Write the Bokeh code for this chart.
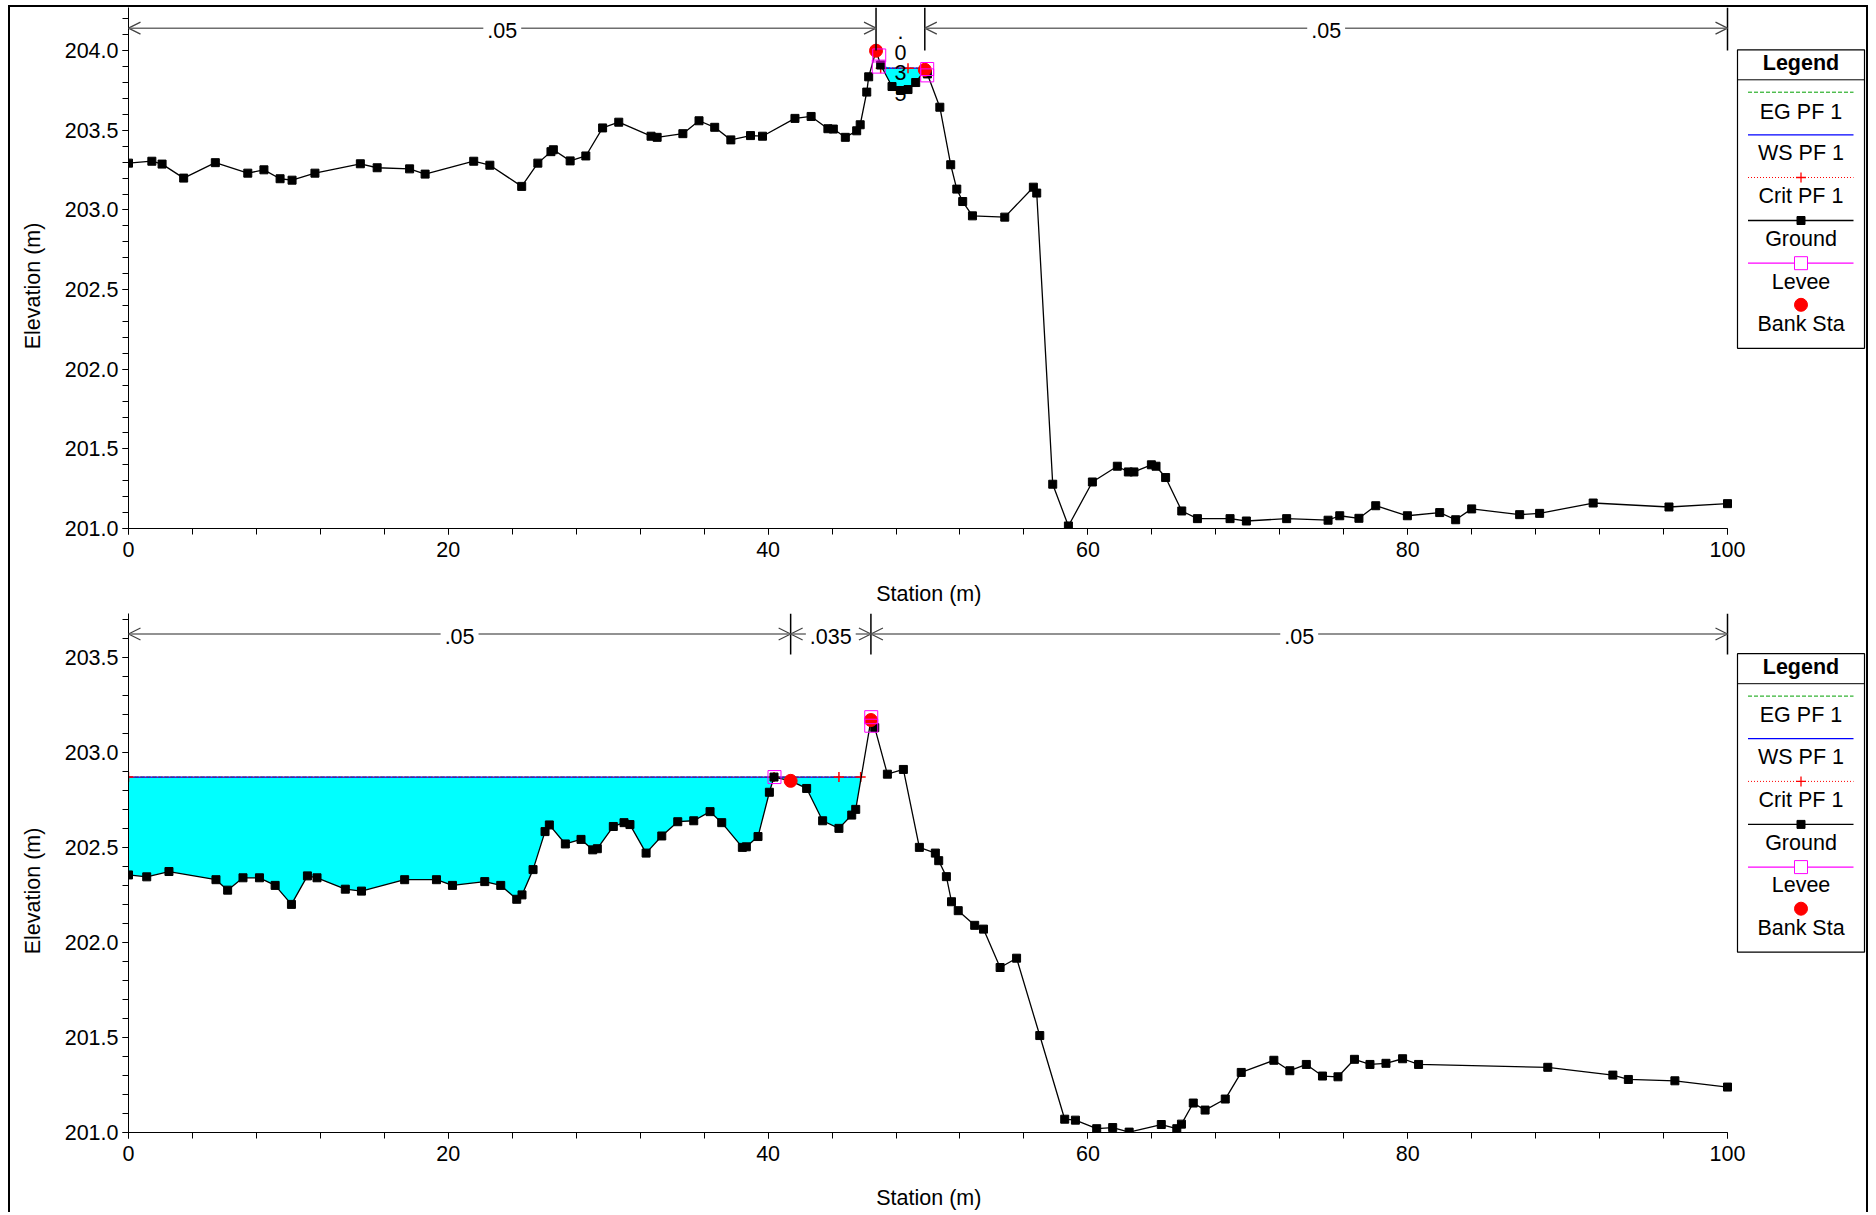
import numpy as np
from bokeh.plotting import figure
from bokeh.layouts import column
from bokeh.models import (Range1d, SingleIntervalTicker, PrintfTickFormatter,
                          Arrow, OpenHead, Label)
from bokeh.core.properties import value
from bokeh.embed import file_html
from bokeh.resources import INLINE

# ---------------------------------------------------------------- data
top_station = [0.0, 1.46, 2.10, 3.45, 5.43, 7.46, 8.47, 9.48, 10.23, 11.66,
               14.50, 15.55, 17.58, 18.55, 21.59, 22.60, 24.59, 25.60, 26.42, 26.57,
               27.62, 28.60, 29.65, 30.66, 32.68, 33.06, 34.67, 35.68, 36.66, 37.67,
               38.90, 39.65, 41.68, 42.69, 43.74, 44.08, 44.83, 45.54, 45.76, 46.17,
               46.29, 46.75, 47.04, 47.75, 48.29, 48.75, 49.23, 49.80, 49.96, 50.74,
               51.42, 51.80, 52.17, 52.78, 54.80, 56.59, 56.80, 57.80, 58.78, 60.28,
               61.84, 62.53, 62.88, 63.97, 64.26, 64.86, 65.87, 66.85, 68.89, 69.91,
               72.43, 75.02, 75.75, 76.95, 78.00, 79.98, 82.00, 83.00, 84.00, 87.00,
               88.25, 91.60, 96.34, 100.0]
top_elev = [203.294, 203.306, 203.288, 203.200, 203.297, 203.231, 203.252, 203.196, 203.187, 203.231,
            203.290, 203.265, 203.258, 203.225, 203.306, 203.281, 203.148, 203.294, 203.366, 203.378,
            203.308, 203.339, 203.515, 203.551, 203.463, 203.456, 203.479, 203.560, 203.519, 203.440,
            203.467, 203.463, 203.575, 203.587, 203.510, 203.508, 203.456, 203.497, 203.535, 203.740,
            203.836, 204.000, 203.910, 203.775, 203.750, 203.756, 203.800, 203.880, 203.854, 203.645,
            203.284, 203.131, 203.053, 202.963, 202.955, 203.143, 203.106, 201.278, 201.016, 201.292,
            201.391, 201.355, 201.355, 201.400, 201.391, 201.320, 201.110, 201.062, 201.062, 201.047,
            201.062, 201.052, 201.080, 201.064, 201.143, 201.080, 201.100, 201.055, 201.123, 201.087,
            201.095, 201.160, 201.135, 201.156]
top_bank_sta = [46.75, 49.80]
top_bank_elev = [204.00, 203.88]
top_levee_sta = [46.95, 46.92, 49.95, 49.95]
top_levee_elev = [203.97, 203.90, 203.885, 203.845]
top_ws_sta = [47.00, 49.96]
top_ws_elev = 203.89
top_eg_elev = 203.89
top_crit_sta = [47.04, 48.75]
top_n_sta = [0.0, 46.75, 49.80, 100.0]
top_n_val = [".05", ".035", ".05"]

bot_station = [0.0, 1.14, 2.53, 5.47, 6.20, 7.16, 8.19, 9.17, 10.19, 11.19,
               11.79, 13.56, 14.57, 17.27, 19.26, 20.26, 22.28, 23.28, 24.28, 24.61,
               25.30, 26.05, 26.32, 27.32, 28.30, 29.03, 29.32, 30.32, 30.99, 31.36,
               32.37, 33.35, 34.35, 35.35, 36.37, 37.10, 38.39, 38.64, 39.37, 40.08,
               40.37, 41.41, 42.41, 43.41, 44.43, 45.23, 45.48, 46.43, 46.67, 47.46,
               48.46, 49.46, 50.46, 50.67, 51.15, 51.47, 51.89, 52.92, 53.47, 54.51,
               55.54, 56.99, 58.55, 59.22, 60.55, 61.55, 62.58, 64.59, 65.56, 65.85,
               66.59, 67.33, 68.59, 69.59, 71.63, 72.63, 73.66, 74.67, 75.64, 76.67,
               77.64, 78.64, 79.68, 80.68, 88.76, 92.83, 93.80, 96.71, 100.0]
bot_elev = [202.355, 202.345, 202.373, 202.330, 202.275, 202.340, 202.340, 202.300, 202.200, 202.350,
            202.340, 202.280, 202.270, 202.330, 202.330, 202.300, 202.320, 202.300, 202.227, 202.250,
            202.383, 202.583, 202.618, 202.518, 202.542, 202.487, 202.493, 202.610, 202.630, 202.620,
            202.470, 202.560, 202.635, 202.640, 202.688, 202.630, 202.500, 202.503, 202.557, 202.790,
            202.870, 202.850, 202.810, 202.640, 202.600, 202.670, 202.700, 203.170, 203.130, 202.885,
            202.910, 202.500, 202.470, 202.430, 202.346, 202.214, 202.167, 202.090, 202.070, 201.868,
            201.917, 201.510, 201.070, 201.065, 201.020, 201.026, 201.002, 201.042, 201.020, 201.044,
            201.155, 201.118, 201.176, 201.316, 201.380, 201.325, 201.358, 201.297, 201.293, 201.385,
            201.358, 201.364, 201.388, 201.358, 201.343, 201.302, 201.279, 201.272, 201.239]
bot_bank_sta = [41.41, 46.43]
bot_bank_elev = [202.85, 203.17]
bot_levee_sta = [40.40, 46.45, 46.45]
bot_levee_elev = [202.87, 203.185, 203.14]
bot_ws_sta = [0.0, 45.79]
bot_ws_elev = 202.87
bot_eg_elev = 202.87
bot_crit_sta = [0.0, 40.37, 44.43, 45.79]
bot_n_sta = [0.0, 41.41, 46.43, 100.0]
bot_n_val = [".05", ".035", ".05"]

legend_labels = ["EG PF 1", "WS PF 1", "Crit PF 1", "Ground", "Levee", "Bank Sta"]
x_title = "Station (m)"
y_title = "Elevation (m)"

# ---------------------------------------------------------------- style / layout
FONT = "Liberation Sans"
FS = "21.5px"
FIG_W = 1856
ORIGIN_X = 10.0             # page x where the figures start (after margin + border)
FRAME_LEFT_PAGE = 128.0
PX_PER_M_X = 15.99
X_END = (FIG_W - (FRAME_LEFT_PAGE - ORIGIN_X)) / PX_PER_M_X
CYAN = "#00FFFF"
GRAY = "#6e6e6e"
NBSP = "\u00a0"


def make_panel(station, elev, bank_sta, bank_elev, levee_sta, levee_elev,
               ws_sta, ws_elev, eg_elev, crit_sta, n_sta, n_val, *,
               page_top, height, mbt, frame_h, pxm_y, row_page, vline_bottom_page,
               legend_top_page, stack_vertical_mid):
    frame_top_page = page_top + mbt
    mbb = height - mbt - frame_h
    y_end = 201.0 + frame_h / pxm_y

    def X(px):
        return (px - FRAME_LEFT_PAGE) / PX_PER_M_X

    def Y(py):
        return y_end - (py - frame_top_page) / pxm_y

    p = figure(width=FIG_W, height=height, output_backend="svg", toolbar_location=None,
               x_range=Range1d(0, X_END), y_range=Range1d(201.0, y_end),
               min_border_left=int(FRAME_LEFT_PAGE - ORIGIN_X), min_border_right=0,
               min_border_top=mbt, min_border_bottom=mbb)
    p.outline_line_color = None
    p.grid.visible = False
    p.background_fill_color = "white"
    p.border_fill_color = "white"

    for ax in (p.xaxis[0], p.yaxis[0]):
        ax.axis_line_color = "black"
        ax.major_tick_line_color = "black"
        ax.minor_tick_line_color = "black"
        ax.major_tick_in = 0
        ax.minor_tick_in = 0
        ax.major_tick_out = 6
        ax.minor_tick_out = 6
        ax.major_label_text_font = FONT
        ax.major_label_text_font_size = FS
        ax.major_label_text_color = "black"
        ax.axis_label_text_font = FONT
        ax.axis_label_text_font_size = FS
        ax.axis_label_text_font_style = "normal"
        ax.axis_label_text_color = "black"
    xa = p.xaxis[0]
    xa.ticker = SingleIntervalTicker(interval=20, num_minor_ticks=5)
    xa.bounds = (0, 100)
    xa.major_label_standoff = 7
    # the frame reaches past station 100 (legend area); trailing no-break spaces keep
    # the title centred under the 0-100 axis as in the original
    xa.axis_label = x_title + NBSP * 23
    xa.axis_label_standoff = 22
    ya = p.yaxis[0]
    ya.ticker = SingleIntervalTicker(interval=0.5, num_minor_ticks=5)
    ya.formatter = PrintfTickFormatter(format="%.1f")
    ya.major_label_standoff = 4
    ya.axis_label = y_title + NBSP * 6
    ya.axis_label_standoff = 17

    # water fill
    st = np.asarray(station, dtype=float)
    el = np.asarray(elev, dtype=float)
    inside = (st > ws_sta[0]) & (st < ws_sta[1])
    fx = np.concatenate([[ws_sta[0]], st[inside], [ws_sta[1]]])
    fg = np.interp(fx, st, el)
    p.varea(x=fx, y1=fg, y2=np.maximum(fg, ws_elev), fill_color=CYAN)

    # EG / WS / Crit
    p.line(ws_sta, [eg_elev] * 2, line_color="#00a000", line_width=1, line_dash="4 2")
    p.line(ws_sta, [ws_elev] * 2, line_color="blue", line_width=1.2)
    p.line(ws_sta, [ws_elev] * 2, line_color="red", line_width=1, line_dash="1 2")
    p.scatter(crit_sta, [ws_elev] * len(crit_sta), marker="cross", size=10,
              line_color="red", line_width=1.5)

    # ground
    p.line(station, elev, line_color="black", line_width=1.3)
    p.scatter(station, elev, marker="square", size=8, fill_color="black",
              line_color="black")

    # bank stations, levees
    p.scatter(bank_sta, bank_elev, marker="circle", size=13, fill_color="red",
              line_color="red")
    p.scatter(levee_sta, levee_elev, marker="square", size=13, fill_color=None,
              line_color="magenta", line_width=1)

    # Manning's n reach markers
    row_y = Y(row_page)
    vtop = y_end
    vbot = Y(vline_bottom_page)
    p.segment(x0=n_sta[1:], y0=[vtop] * 3, x1=n_sta[1:], y1=[vbot] * 3,
              line_color="black", line_width=1.5)
    for i, lab in enumerate(n_val):
        a, b = n_sta[i], n_sta[i + 1]
        mid = (a + b) / 2
        if stack_vertical_mid and i == 1:
            rows = [31.0, 51.7, 71.5, 92.5]
            p.text(x=[mid] * 4, y=[Y(r) for r in rows], text=list(lab),
                   text_align="center", text_baseline="middle",
                   text_font=value(FONT), text_font_size=FS, text_color="black")
            continue
        p.add_layout(Arrow(x_start=a, y_start=row_y, x_end=b, y_end=row_y,
                           line_color=GRAY, line_width=1.6,
                           start=OpenHead(size=12, line_color="#444444", line_width=1.3),
                           end=OpenHead(size=12, line_color="#444444", line_width=1.3)))
        p.add_layout(Label(x=mid, y=Y(row_page + 2.5), text=lab, text_align="center",
                           text_baseline="middle", text_font=FONT, text_font_size=FS,
                           text_color="black", background_fill_color="white",
                           padding=4))

    # legend box, drawn inside the extended frame to the right of station 100
    L, R = 1737.0, 1864.0
    T = legend_top_page
    B = T + 298.5
    cx = (L + R) / 2
    p.quad(left=[X(L)], right=[X(R)], top=[Y(T)], bottom=[Y(B)],
           fill_color="white", line_color="black", line_width=1.2)
    p.segment(x0=[X(L)], y0=[Y(T + 30)], x1=[X(R)], y1=[Y(T + 30)],
              line_color="black", line_width=1)
    p.text(x=[X(cx)], y=[Y(T + 13.5)], text=["Legend"], text_align="center",
           text_baseline="middle", text_font=value(FONT), text_font_size=FS,
           text_font_style="bold", text_color="black")
    lx0, lx1 = X(L + 10.5), X(R - 11)
    line_rows = [42.4, 85.0, 127.7, 170.7, 213.4]
    text_rows = [61.7, 103.4, 146.4, 189.4, 231.7, 274.0]
    p.line([lx0, lx1], [Y(T + line_rows[0])] * 2, line_color="#00a000", line_dash="4 2")
    p.line([lx0, lx1], [Y(T + line_rows[1])] * 2, line_color="blue", line_width=1.3)
    p.line([lx0, lx1], [Y(T + line_rows[2])] * 2, line_color="red", line_dash="1 2")
    p.scatter([X(cx)], [Y(T + line_rows[2])], marker="cross", size=10,
              line_color="red", line_width=1.3)
    p.line([lx0, lx1], [Y(T + line_rows[3])] * 2, line_color="black", line_width=1.3)
    p.scatter([X(cx)], [Y(T + line_rows[3])], marker="square", size=8,
              fill_color="black", line_color="black")
    p.line([lx0, lx1], [Y(T + line_rows[4])] * 2, line_color="magenta", line_width=1.3)
    p.scatter([X(cx)], [Y(T + line_rows[4])], marker="square", size=13,
              fill_color="white", line_color="magenta")
    p.scatter([X(cx)], [Y(T + 255.0)], marker="circle", size=13,
              fill_color="red", line_color="red")
    p.text(x=[X(cx)] * 6, y=[Y(T + r) for r in text_rows], text=legend_labels,
           text_align="center", text_baseline="middle", text_font=value(FONT),
           text_font_size=FS, text_color="black")
    return p


p_top = make_panel(top_station, top_elev, top_bank_sta, top_bank_elev,
                   top_levee_sta, top_levee_elev, top_ws_sta, top_ws_elev, top_eg_elev,
                   top_crit_sta, top_n_sta, top_n_val,
                   page_top=7, height=601, mbt=0, frame_h=521, pxm_y=159.27,
                   row_page=27.7, vline_bottom_page=50.0, legend_top_page=49.3,
                   stack_vertical_mid=True)
p_bot = make_panel(bot_station, bot_elev, bot_bank_sta, bot_bank_elev,
                   bot_levee_sta, bot_levee_elev, bot_ws_sta, bot_ws_elev, bot_eg_elev,
                   bot_crit_sta, bot_n_sta, bot_n_val,
                   page_top=608, height=604, mbt=5, frame_h=519, pxm_y=190.08,
                   row_page=633.5, vline_bottom_page=654.0, legend_top_page=653.2,
                   stack_vertical_mid=False)

layout = column(p_top, p_bot, spacing=0,
                styles={"margin-left": "8px", "margin-top": "5px",
                        "border-left": "2px solid black", "border-top": "2px solid black",
                        "border-right": "2px solid black"})

open("out.html", "w").write(file_html(layout, INLINE))
